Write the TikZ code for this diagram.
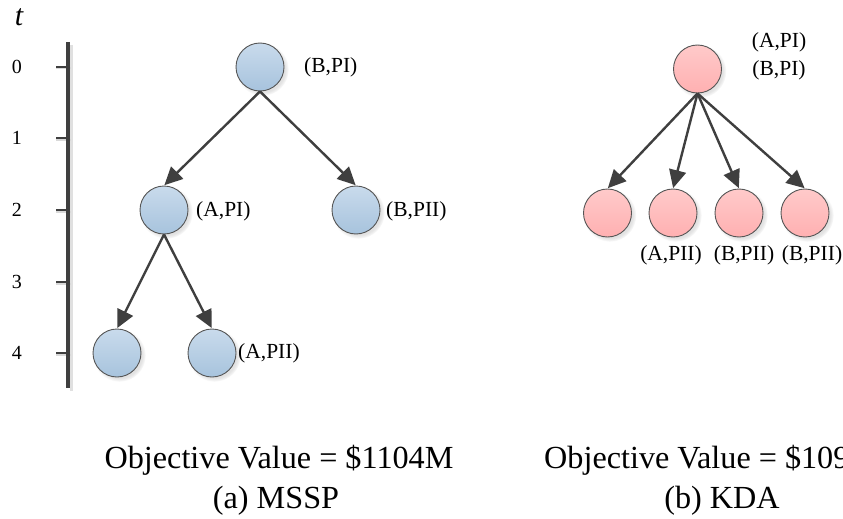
\documentclass[tikz,border=0pt]{standalone}
\usepackage{fontspec}
\setmainfont{Liberation Serif}
\usetikzlibrary{arrows.meta,shadows}
\definecolor{linegray}{HTML}{3F3F3F}
\definecolor{rimgray}{HTML}{555555}
\definecolor{bluetop}{HTML}{C9DBEC}
\definecolor{bluebot}{HTML}{A7C3DD}
\definecolor{pinktop}{HTML}{FFCACA}
\definecolor{pinkbot}{HTML}{FFB0B1}
\tikzset{
  state/.style={circle, minimum size=48pt, inner sep=0pt, draw=rimgray, line width=0.9pt,
    circular drop shadow={shadow xshift=2.2pt, shadow yshift=-2.2pt, fill=black!25, opacity=0.45}},
  bluestate/.style={state, top color=bluetop, bottom color=bluebot},
  pinkstate/.style={state, top color=pinktop, bottom color=pinkbot},
  arr/.style={draw=linegray, line width=2.4pt, -{Triangle[length=18pt,width=17pt]}, shorten >=0.5pt},
  lab/.style={font=\fontsize{21.5}{24}\selectfont, inner sep=0pt},
  ticklab/.style={font=\fontsize{20}{24}\selectfont, inner sep=0pt},
  caption/.style={font=\fontsize{32.2}{36}\selectfont, inner sep=0pt},
  axisline/.style={draw=linegray, line width=4pt},
  tickline/.style={draw=linegray, line width=2.6pt},
  axisshadow/.style={draw=black!12, line width=3.5pt},
}
\begin{document}
\begin{tikzpicture}[x=1pt, y=-1pt]
\useasboundingbox (0,0) rectangle (843,519);

% time axis: shadows first, then the axis and its ticks on top
\coordinate (ttop) at (68,42);
\coordinate (tbot) at (68,388);
\draw[axisshadow] ([xshift=3.5pt,yshift=-3pt]ttop) -- ([xshift=3.5pt,yshift=-3pt]tbot);
\foreach \k/\y in {0/67,1/138,2/210,3/282,4/353}{
  \coordinate (tk\k) at (68,\y);
  \coordinate (tl\k) at (56,\y);
  \draw[draw=black!15, line width=2pt] ([yshift=-1.5pt]tl\k) -- ([xshift=3pt,yshift=-1.5pt]tk\k);
}
\draw[axisline] (ttop) -- (tbot);
\node[font=\fontsize{30}{34}\selectfont\itshape, inner sep=0pt] (tlab) at (19,17) {t};
\foreach \k/\y in {0/67,1/138,2/210,3/282,4/353}{
  \draw[tickline] (tl\k) -- (tk\k);
  \node[ticklab] (tn\k) at (17,\y) {\k};
}

% (a) MSSP scenario tree
\node[bluestate] (m0)  at (260,67)  {};
\node[bluestate] (m1)  at (164,210) {};
\node[bluestate] (m2)  at (356,210) {};
\node[bluestate] (m11) at (117,353) {};
\node[bluestate] (m12) at (212,353) {};
\draw[arr] (m0.south) -- (m1.north);
\draw[arr] (m0.south) -- (m2.north);
\draw[arr] (m1.south) -- (m11.north);
\draw[arr] (m1.south) -- (m12.north);
\node[lab, anchor=west] (lm0)  at (304,67)  {(B,PI)};
\node[lab, anchor=west] (lm1)  at (196,211) {(A,PI)};
\node[lab, anchor=west] (lm2)  at (386,211) {(B,PII)};
\node[lab, anchor=west] (lm12) at (238,353) {(A,PII)};

% (b) KDA tree
\node[pinkstate] (k0) at (697.5,69) {};
\node[pinkstate] (k1) at (607.5,213) {};
\node[pinkstate] (k2) at (673,213) {};
\node[pinkstate] (k3) at (739,213) {};
\node[pinkstate] (k4) at (805,213) {};
\foreach \c in {k1,k2,k3,k4}{\draw[arr] (k0.south) -- (\c.north);}
\node[lab] (lk0a) at (779,42) {(A,PI)};
\node[lab] (lk0b) at (779,70) {(B,PI)};
\node[lab] (lk2) at (671,255) {(A,PII)};
\node[lab] (lk3) at (744,255) {(B,PII)};
\node[lab] (lk4) at (812,255) {(B,PII)};

% captions
\node[caption, anchor=base] (obja) at (279,468) {Objective Value = \$1104M};
\node[caption, anchor=base] (capa) at (276,508) {(a) MSSP};
\node[caption, anchor=base west] (objb) at (544,468) {Objective Value = \$109};
\node[caption, anchor=base] (capb) at (722,508) {(b) KDA};
\end{tikzpicture}
\end{document}
